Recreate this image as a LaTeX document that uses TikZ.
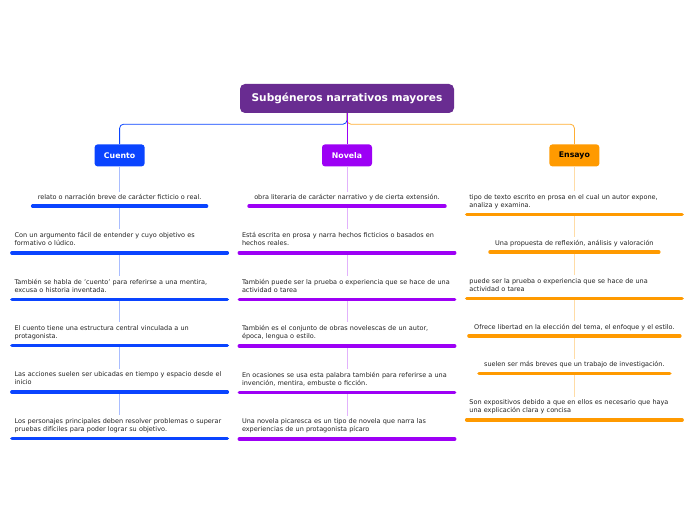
\documentclass[tikz,border=0pt]{standalone}
\usepackage{fontspec}
\setmainfont{DejaVu Sans}
\usepackage{xcolor}
\usetikzlibrary{positioning}
\definecolor{colRaiz}{HTML}{692C91}
\definecolor{colAzul}{HTML}{0A44FF}
\definecolor{colMorado}{HTML}{9D00F5}
\definecolor{colNaranja}{HTML}{FF9A00}
\definecolor{colTexto}{HTML}{222222}
\tikzset{
	raiz/.style={fill=colRaiz, text=white, rounded corners=5pt, minimum width=214pt, minimum height=29pt, font=\fontsize{10.6}{12}\selectfont\bfseries}, % nodo central
	rama/.style={fill=#1, rounded corners=3pt, minimum width=50pt, minimum height=22pt, inner sep=0pt, font=\fontsize{7.8}{9}\selectfont\bfseries}, % subgeneros
	hoja/.style={text=colTexto, inner xsep=5pt, inner ysep=2.25pt, text depth=4.5pt, node distance=23pt, font=\fontsize{6.5}{8}\selectfont}, % textos de una linea
	hojal/.style={hoja, text width=210pt, inner xsep=2.5pt, inner ysep=3pt, text depth=12pt, align=left}, % textos de dos lineas
	raya/.style={line width=3.5pt, line cap=round}, % subrayado
	enlace/.style={line width=0.8pt, rounded corners=4pt}, % conectores
}
\begin{document}
\begin{tikzpicture}[x=1pt, y=1pt]
	\useasboundingbox (0,0) rectangle (696,520);
	% Nodos principales
	\node[raiz] (raiz) at (347,421.5) {Subgéneros narrativos mayores};
	\node[rama=colMorado, text=white, below=31pt of raiz] (novela) {Novela};
	\node[rama=colAzul, text=white, left=177pt of novela] (cuento) {Cuento};
	\node[rama=colNaranja, text=black, right=177pt of novela] (ensayo) {Ensayo};

	% Cuento
	\node[hoja, below=25pt of cuento] (c1) {relato o narración breve de carácter ficticio o real.};
	\node[hojal, below=of c1] (c2) {Con un argumento fácil de entender y cuyo objetivo es\\formativo o lúdico.};
	\node[hojal, below=of c2] (c3) {También se habla de 'cuento' para referirse a una mentira,\\excusa o historia inventada.};
	\node[hojal, below=of c3] (c4) {El cuento tiene una estructura central vinculada a un\\protagonista.};
	\node[hojal, below=of c4] (c5) {Las acciones suelen ser ubicadas en tiempo y espacio desde el\\inicio};
	\node[hojal, below=of c5] (c6) {Los personajes principales deben resolver problemas o superar\\pruebas difíciles para poder lograr su objetivo.};

	% Novela
	\node[hoja, below=25pt of novela] (n1) {obra literaria de carácter narrativo y de cierta extensión.};
	\node[hojal, below=of n1] (n2) {Está escrita en prosa y narra hechos ficticios o basados en\\hechos reales.};
	\node[hojal, below=of n2] (n3) {También puede ser la prueba o experiencia que se hace de una\\actividad o tarea};
	\node[hojal, below=of n3] (n4) {También es el conjunto de obras novelescas de un autor,\\época, lengua o estilo.};
	\node[hojal, below=of n4] (n5) {En ocasiones se usa esta palabra también para referirse a una\\invención, mentira, embuste o ficción.};
	\node[hojal, below=of n5] (n6) {Una novela picaresca es un tipo de novela que narra las\\experiencias de un protagonista pícaro};

	% Ensayo
	\node[hojal, below=24.5pt of ensayo] (e1) {tipo de texto escrito en prosa en el cual un autor expone,\\analiza y examina.};
	\node[hoja, below=of e1] (e2) {Una propuesta de reflexión, análisis y valoración};
	\node[hojal, below=of e2] (e3) {puede ser la prueba o experiencia que se hace de una\\actividad o tarea};
	\node[hoja, below=of e3] (e4) {Ofrece libertad en la elección del tema, el enfoque y el estilo.};
	\node[hoja, below=of e4] (e5) {suelen ser más breves que un trabajo de investigación.};
	\node[hojal, below=of e5] (e6) {Son expositivos debido a que en ellos es necesario que haya\\una explicación clara y concisa};

	% Conectores
	\draw[enlace, colAzul] (raiz.south) -- ++(0,-11) -| (cuento.north);
	\draw[enlace, colNaranja!80] (raiz.south) -- ++(0,-11) -| (ensayo.north);
	\draw[enlace, colMorado] (raiz.south) -- (novela.north);
	\path[line width=0.8pt, colAzul!35]
		(cuento) edge (c1) (c1) edge (c2) (c2) edge (c3)
		(c3) edge (c4) (c4) edge (c5) (c5) edge (c6);
	\path[line width=0.8pt, colMorado!30]
		(novela) edge (n1) (n1) edge (n2) (n2) edge (n3)
		(n3) edge (n4) (n4) edge (n5) (n5) edge (n6);
	\path[line width=0.8pt, colNaranja!35]
		(ensayo) edge (e1) (e1) edge (e2) (e2) edge (e3)
		(e3) edge (e4) (e4) edge (e5) (e5) edge (e6);

	% Subrayados
	\foreach \i in {1,...,6} {
		\draw[raya, colAzul] (c\i.south west) -- (c\i.south east);
		\draw[raya, colMorado] (n\i.south west) -- (n\i.south east);
		\draw[raya, colNaranja] (e\i.south west) -- (e\i.south east);
	}
\end{tikzpicture}
\end{document}
